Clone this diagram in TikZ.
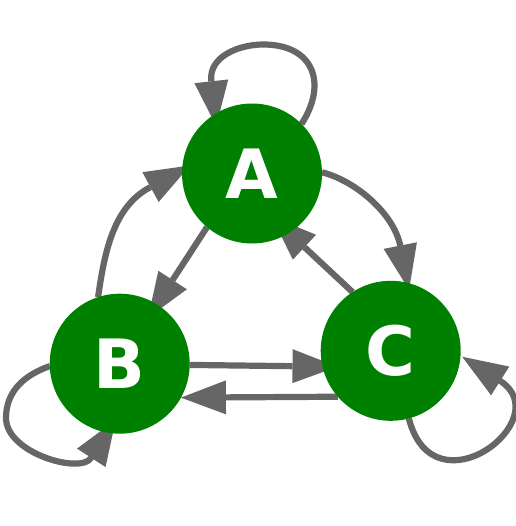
\documentclass[tikz,border=0pt]{standalone}
\usepackage{fontspec}
\setsansfont{DejaVu Sans}
\usetikzlibrary{arrows.meta}
\pgfdeclarelayer{edgelayer}
\pgfsetlayers{edgelayer,main}
\definecolor{nodegreen}{RGB}{0,128,0}
\definecolor{edgegray}{RGB}{102,102,102}
\begin{document}
\begin{tikzpicture}[x=1pt,y=-1pt,
  vertex/.style={circle, fill=nodegreen, minimum size=140pt, inner sep=0pt, outer sep=0pt,
    text=white, font=\sffamily\bfseries\fontsize{68}{68}\selectfont},
  edge/.style={draw=edgegray, line width=6.2pt,
    -{Triangle[length=45pt,width=34pt,line width=0pt]}}]
\useasboundingbox (0,0) rectangle (515,526);
\node[vertex] (A) at (252,173.5) {A};
\node[vertex] (B) at (119.7,363.7) {B};
\node[vertex] (C) at (390.7,350.8) {C};
\begin{pgfonlayer}{edgelayer}
% A loop
\draw[edge, shorten >=-12pt] (A.45) .. controls (328,83) and (313.3,44.5) .. (263.3,44.5)
  .. controls (239,44.5) and (208.4,56.5) .. (211.3,81.3) -- (A.122);
% A -> C
\draw[edge, shorten >=-7pt] (A.1.5) .. controls (354.5,180.5) and (393.4,212.5) .. (400.3,245.8) -- (C.76);
% C -> A
\draw[edge, shorten >=-24pt] (C.123) -- (A.302.5);
% A -> B
\draw[edge, shorten >=-16pt] (A.230) -- (B.58);
% B -> A
\draw[edge, shorten >=-9pt] (B.108) .. controls (104.3,254.4) and (112.5,207.1) .. (150.3,187.2) -- (A.177.5);
% B -> C
\draw[edge, shorten >=-15pt] (B.-1) -- (C.193.5);
% C -> B
\draw[edge] (C.221) -- (B.331.5);
% B loop
\draw[edge, shorten >=-15pt] (B.182.6) .. controls (26,374.5) and (6,390) .. (6,418)
  .. controls (6,453) and (80.5,474.6) .. (91.3,457.8) -- (B.260);
% C loop
\draw[edge, shorten >=2pt] (C.-75) .. controls (433.8,515.4) and (558.9,418.7) .. (500,380.8) -- (C.-4);
\end{pgfonlayer}
\end{tikzpicture}
\end{document}
